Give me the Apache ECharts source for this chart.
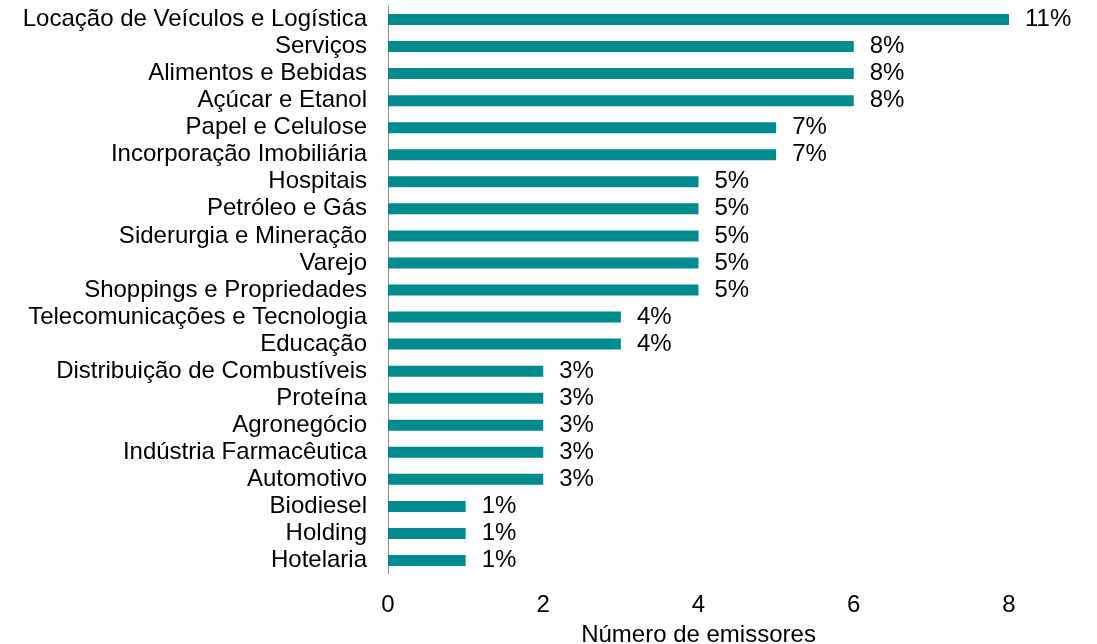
<!DOCTYPE html>
<html>
<head>
<meta charset="utf-8">
<script src="https://cdn.jsdelivr.net/npm/echarts@6/dist/echarts.min.js"></script>
<style>
  html, body { margin: 0; padding: 0; background: #fff; }
  #chart { width: 1097px; height: 644px; }
</style>
</head>
<body>
<div id="chart"></div>
<script>
// setores (de cima para baixo)
var setores = [
    'Locação de Veículos e Logística', 'Serviços', 'Alimentos e Bebidas',
    'Açúcar e Etanol', 'Papel e Celulose', 'Incorporação Imobiliária',
    'Hospitais', 'Petróleo e Gás', 'Siderurgia e Mineração', 'Varejo',
    'Shoppings e Propriedades', 'Telecomunicações e Tecnologia', 'Educação',
    'Distribuição de Combustíveis', 'Proteína', 'Agronegócio',
    'Indústria Farmacêutica', 'Automotivo', 'Biodiesel', 'Holding', 'Hotelaria'
];
// número de emissores
var emissores = [8, 6, 6, 6, 5, 5, 4, 4, 4, 4, 4, 3, 3, 2, 2, 2, 2, 2, 1, 1, 1];
// participação (%)
var percentuais = [11, 8, 8, 8, 7, 7, 5, 5, 5, 5, 5, 4, 4, 3, 3, 3, 3, 3, 1, 1, 1];
var ticksX = [0, 2, 4, 6, 8];

var FONTE = 'Liberation Sans, Arial, sans-serif';
var TAM = 24;
var chart = echarts.init(document.getElementById('chart'));

chart.setOption({
    animation: false,
    grid: { left: 388, right: 88, top: 6, bottom: 70, containLabel: false, outerBoundsMode: 'none' },
    xAxis: {
        type: 'value',
        min: ticksX[0],
        max: ticksX[ticksX.length - 1],
        interval: 2,
        name: 'Número de emissores',
        nameLocation: 'middle',
        nameGap: 49,
        nameTextStyle: { fontFamily: FONTE, fontSize: TAM, color: '#000' },
        axisLine: { show: false },
        axisTick: { show: false },
        splitLine: { show: false },
        axisLabel: { fontFamily: FONTE, fontSize: TAM, color: '#000', margin: 19 }
    },
    yAxis: {
        type: 'category',
        inverse: true,
        data: setores,
        axisLine: { show: true, lineStyle: { color: '#8c8c8c', width: 1 } },
        axisTick: { show: false },
        axisLabel: { fontFamily: FONTE, fontSize: TAM, color: '#000', margin: 21, interval: 0 }
    },
    series: [{
        type: 'bar',
        data: emissores,
        barWidth: 11,
        itemStyle: { color: '#008b8e' },
        label: {
            show: true,
            position: 'right',
            distance: 16,
            fontFamily: FONTE,
            fontSize: TAM,
            color: '#000',
            formatter: function (p) { return percentuais[p.dataIndex] + '%'; }
        }
    }]
});
</script>
</body>
</html>
